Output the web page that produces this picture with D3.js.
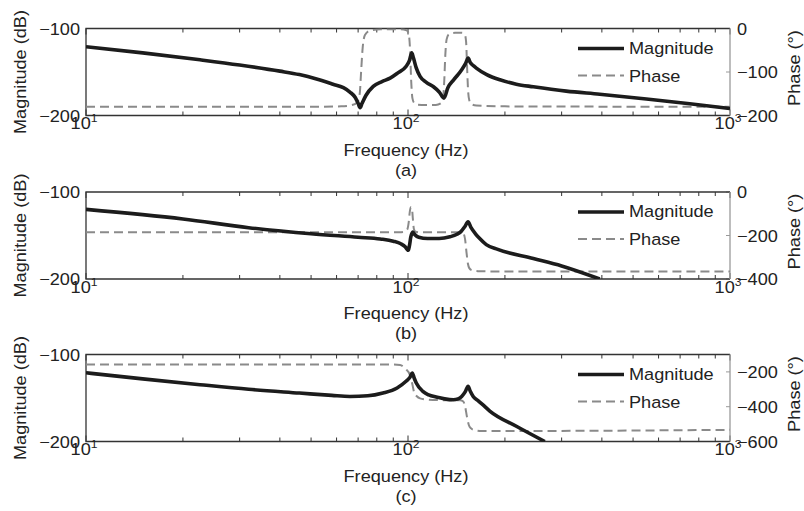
<!DOCTYPE html>
<html>
<head>
<meta charset="utf-8">
<script src="https://cdn.jsdelivr.net/npm/d3@7"></script>
<style>
  html, body { margin: 0; padding: 0; background: #fff; }
  svg { display: block; }
</style>
</head>
<body>
<div id="chart"></div>
<script>
(function () {
  "use strict";

  // ---- data ----
  const panelLabels = ["(a)", "(b)", "(c)"];
  const freqDomain = [10, 1000];
  const freqTickLabels = [[10, "1"], [100, "2"], [1000, "3"]];
  const magDomain = [-200, -100];
  const magTicks = [-100, -200];

  // (a)
  const magAFreq = [10, 15, 22.6, 30, 40, 46, 52, 58.5, 63, 66, 68.5, 70, 71, 72, 74, 78, 83, 88, 93, 98.6, 101, 102.7, 104, 106, 109, 114, 120, 125, 129.4, 133, 138.6, 143, 147, 151, 153.8, 156, 160, 163, 175.6, 193, 217, 245, 310, 394, 550, 750, 1000];
  const magA = [-121, -128, -136, -142, -149, -153, -158, -164, -168, -173, -179, -186, -191, -186, -177, -166.5, -161, -157, -151, -143.6, -137, -128, -134, -145, -155, -162, -167, -173, -180, -168, -159, -153, -147, -140, -134, -139, -143, -145.5, -153, -159, -164, -167, -172, -175.5, -181, -186.5, -192];
  const phaseAFreq = [10, 50, 62, 67, 69.5, 70.8, 71.5, 72.3, 73.5, 76, 82, 95, 99, 100.5, 101.5, 102.3, 103.2, 104.5, 107, 113, 122, 126.5, 128.5, 129.6, 130.6, 131.8, 134, 140, 147, 150, 151.5, 152.6, 153.6, 155, 157.5, 163, 200, 1000];
  const phaseA = [-180, -180, -179, -176, -170, -150, -100, -45, -15, -5, -2, -2, -4, -12, -50, -120, -160, -171, -175, -176, -176, -172, -160, -120, -60, -25, -13, -10, -10, -13, -30, -90, -140, -165, -174, -177, -179, -180];
  const phaseDomainA = [-200, 0];
  const phaseTicksA = [0, -100, -200];

  // (b)
  const magBFreq = [10, 20, 32, 50, 70, 82, 90, 95, 98, 99.5, 100.2, 101, 102, 103.4, 105, 108, 115, 125, 135, 142, 146, 150, 153.6, 157, 162, 167, 175, 190, 245, 300, 394];
  const magB = [-120, -131, -141, -148, -152, -154, -156.5, -159.5, -163, -166, -167, -162, -152, -146, -149, -152, -153.5, -153.5, -151.5, -148.5, -145.5, -140, -134.3, -141, -148, -153.5, -160.5, -166, -176.5, -185, -200];
  const phaseBFreq = [10, 94, 97.5, 99.5, 100.5, 101.3, 102, 102.8, 103.5, 104.3, 105.5, 108, 145, 148.5, 150.5, 152, 153.5, 155, 158, 165, 180, 1000];
  const phaseB = [-185, -185, -182, -172, -140, -90, -70, -72, -120, -170, -182, -185, -185, -190, -220, -280, -330, -350, -360, -364, -365, -365];
  const phaseDomainB = [-400, 0];
  const phaseTicksB = [0, -200, -400];

  // (c)
  const magCFreq = [10, 15, 22.6, 32, 46, 58, 66, 75, 83.6, 92.5, 98.6, 101.5, 103.1, 104.5, 106.1, 111.2, 116, 122.3, 130, 138.3, 143, 146.8, 150.5, 153.7, 156, 159.4, 165, 171, 179.5, 217, 266];
  const magC = [-121, -128, -134.7, -140, -144.3, -147, -148.2, -147.5, -144.3, -138.5, -130.8, -126, -121.2, -127, -132.7, -142.4, -146.5, -148.9, -151, -152, -151, -148.2, -143, -136.6, -142, -148.2, -153, -158, -165, -182.5, -200];
  const phaseCFreq = [10, 90, 94.5, 97, 98.6, 101.3, 103, 104.5, 106.5, 109, 115, 125, 145, 148.5, 150.5, 152.5, 154.5, 157, 160, 170, 400, 1000];
  const phaseC = [-158, -158, -160, -172, -185, -216, -265, -318, -340, -352, -359, -362, -363, -370, -400, -460, -505, -525, -534, -540, -538, -533];
  const phaseDomainC = [-600, -100];
  const phaseTicksC = [-200, -400, -600];

  const legendNames = ["Magnitude", "Phase"];

  // ---- layout ----
  const W = 804, H = 511;
  const LEFT = 86, RIGHT = 730, PH = 87;
  const tops = [28.5, 192, 354.5];
  const FONT = "'Liberation Sans', Arial, Helvetica, sans-serif";
  const FS = 16.5;
  const SX = 1.1; // the original font is a bit wider than Arial
  const DARK = "#333", GREY = "#8a8a8a", AXGREY = "#9a9a9a";

  const zip = (f, v) => f.map((d, i) => [d, v[i]]);

  const panels = [
    { mag: zip(magAFreq, magA), phase: zip(phaseAFreq, phaseA), pDom: phaseDomainA, pTicks: phaseTicksA },
    { mag: zip(magBFreq, magB), phase: zip(phaseBFreq, phaseB), pDom: phaseDomainB, pTicks: phaseTicksB },
    { mag: zip(magCFreq, magC), phase: zip(phaseCFreq, phaseC), pDom: phaseDomainC, pTicks: phaseTicksC }
  ];

  const svg = d3.select("#chart").append("svg")
    .attr("width", W).attr("height", H)
    .attr("viewBox", `0 0 ${W} ${H}`);

  const x = d3.scaleLog().domain(freqDomain).range([LEFT, RIGHT]);

  function label(g, px, py, str, anchor, rot) {
    return g.append("text")
      .attr("transform", `translate(${px},${py}) rotate(${rot || 0}) scale(${SX},1)`)
      .attr("text-anchor", anchor || "middle")
      .attr("font-family", FONT)
      .attr("font-size", FS)
      .attr("fill", "#222")
      .text(str);
  }

  panels.forEach((p, i) => {
    const T = tops[i], B = T + PH;
    const g = svg.append("g");
    const yMag = d3.scaleLinear().domain(magDomain).range([B, T]);
    const yPh = d3.scaleLinear().domain(p.pDom).range([B, T]);

    const clipId = "clip" + i;
    svg.append("clipPath").attr("id", clipId)
      .append("rect").attr("x", LEFT).attr("y", T).attr("width", RIGHT - LEFT).attr("height", PH);

    // frequency ticks top + bottom (inward)
    const xt = x.ticks();
    xt.forEach(t => {
      const major = Math.abs(Math.log10(t) - Math.round(Math.log10(t))) < 1e-9;
      const len = major ? 6 : 4;
      const px = x(t);
      g.append("line").attr("x1", px).attr("x2", px).attr("y1", B).attr("y2", B - len)
        .attr("stroke", DARK).attr("stroke-width", 1);
      g.append("line").attr("x1", px).attr("x2", px).attr("y1", T).attr("y2", T + len)
        .attr("stroke", DARK).attr("stroke-width", 1);
    });

    // right axis ticks
    p.pTicks.forEach(t => {
      g.append("line").attr("x1", RIGHT).attr("x2", RIGHT - 4)
        .attr("y1", yPh(t)).attr("y2", yPh(t))
        .attr("stroke", AXGREY).attr("stroke-width", 1);
    });

    // box
    g.append("path")
      .attr("d", `M${RIGHT},${T}H${LEFT}V${B}H${RIGHT}`)
      .attr("fill", "none").attr("stroke", DARK).attr("stroke-width", 1.3);
    g.append("line").attr("x1", RIGHT).attr("x2", RIGHT).attr("y1", T).attr("y2", B)
      .attr("stroke", AXGREY).attr("stroke-width", 1.3);

    // curves
    const lineMag = d3.line().x(d => x(d[0])).y(d => yMag(d[1])).curve(d3.curveMonotoneX);
    const linePh = d3.line().x(d => x(d[0])).y(d => yPh(d[1])).curve(d3.curveMonotoneX);
    const plot = g.append("g").attr("clip-path", `url(#${clipId})`);
    plot.append("path").attr("d", linePh(p.phase))
      .attr("fill", "none").attr("stroke", GREY).attr("stroke-width", 2)
      .attr("stroke-dasharray", "9,5");
    plot.append("path").attr("d", lineMag(p.mag))
      .attr("fill", "none").attr("stroke", "#1c1c1c").attr("stroke-width", 3.6)
      .attr("stroke-linejoin", "round");

    // left tick labels
    magTicks.forEach(t => label(g, 80, yMag(t) + 6, "\u2212" + Math.abs(t), "end"));
    // right tick labels
    p.pTicks.forEach(t => label(g, 737, yPh(t) + 6, (t < 0 ? "\u2212" : "") + Math.abs(t), "start"));

    // x tick labels 10^n
    freqTickLabels.forEach(([f, e]) => {
      const t = g.append("text")
        .attr("transform", `translate(${x(f) - 2},${B + 13.5}) scale(${SX},1)`)
        .attr("text-anchor", "middle")
        .attr("font-family", FONT).attr("font-size", FS).attr("fill", "#222");
      t.append("tspan").text("10");
      t.append("tspan").attr("font-size", 11).attr("dy", -7).text(e);
    });

    label(g, 406, B + 40, "Frequency (Hz)");
    label(g, 406, B + 60, panelLabels[i]);
    label(g, 25.5, (T + B) / 2, "Magnitude (dB)", "middle", -90);
    label(g, 800, (T + B) / 2 - 4, "Phase (\u00b0)", "middle", -90);

    // legend
    const ly1 = T + 20, ly2 = T + 47;
    g.append("line").attr("x1", 578).attr("x2", 624).attr("y1", ly1).attr("y2", ly1)
      .attr("stroke", "#1c1c1c").attr("stroke-width", 3.6);
    g.append("line").attr("x1", 578).attr("x2", 624).attr("y1", ly2).attr("y2", ly2)
      .attr("stroke", GREY).attr("stroke-width", 2).attr("stroke-dasharray", "9,5");
    label(g, 629, ly1 + 5, legendNames[0], "start");
    label(g, 629, ly2 + 6, legendNames[1], "start");
  });
})();
</script>
</body>
</html>
